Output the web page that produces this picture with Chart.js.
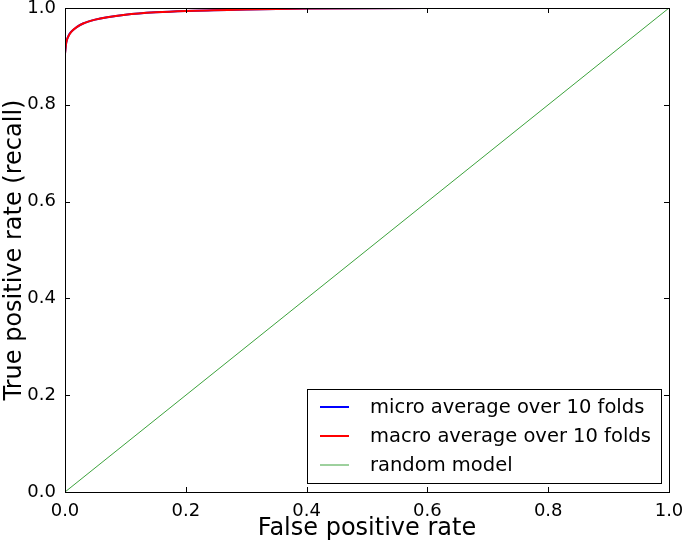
<!DOCTYPE html>
<html>
<head>
<meta charset="utf-8">
<script src="https://cdn.jsdelivr.net/npm/chart.js@4/dist/chart.umd.min.js"></script>
<style>
  html,body{margin:0;padding:0;background:#fff}
  canvas{display:block}
</style>
</head>
<body>
<canvas id="roc" width="685" height="545"></canvas>
<script>
// ── data ──
var fpr      = [0, 0.002, 0.005, 0.01, 0.02, 0.03, 0.05, 0.07, 0.1, 0.15, 0.2, 0.3, 0.4, 0.6, 1.0];
var tprMacro = [0.905, 0.928, 0.94, 0.95, 0.961, 0.968, 0.976, 0.981, 0.986, 0.991, 0.994, 0.997, 0.999, 1.0, 1.0];
var tprMicro = [0.906, 0.928, 0.9405, 0.9505, 0.961, 0.968, 0.976, 0.981, 0.986, 0.991, 0.994, 0.997, 0.999, 1.0, 1.0];
var randX    = [0, 1];
var randY    = [0, 1];
var ticks    = [0, 0.2, 0.4, 0.6, 0.8, 1.0];
var labels   = ['micro average over 10 folds','macro average over 10 folds','random model'];

function pts(xs,ys){return xs.map(function(x,i){return{x:x,y:ys[i]};});}

var FONT='"DejaVu Sans", sans-serif';

// inward ticks on four sides, frame and legend box (matplotlib classic look)
var frame={
  id:'frame',
  afterDatasetsDraw:function(c){
    var a=c.chartArea,ctx=c.ctx,xs=c.scales.x,ys=c.scales.y;
    ctx.save();
    ctx.strokeStyle='#000';ctx.lineWidth=1;
    ctx.beginPath();
    ticks.forEach(function(t){
      var px=Math.round(xs.getPixelForValue(t))+0.5,py=Math.round(ys.getPixelForValue(t))+0.5;
      ctx.moveTo(px,a.bottom);ctx.lineTo(px,a.bottom-5);
      ctx.moveTo(px,a.top);ctx.lineTo(px,a.top+5);
      ctx.moveTo(a.left,py);ctx.lineTo(a.left+5,py);
      ctx.moveTo(a.right,py);ctx.lineTo(a.right-5,py);
    });
    ctx.stroke();
    ctx.strokeRect(Math.round(a.left)+0.5,Math.round(a.top)+0.5,Math.round(a.right-a.left),Math.round(a.bottom-a.top));

    // legend, in dataset index order
    var bx=307.5,by=389.5,bw=354,bh=94;
    ctx.fillStyle='#fff';ctx.fillRect(bx,by,bw,bh);
    ctx.strokeRect(bx,by,bw,bh);
    ctx.font='19.5px '+FONT;ctx.textBaseline='middle';ctx.textAlign='left';
    c.data.datasets.forEach(function(ds,i){
      var ly=407+i*29;
      ctx.strokeStyle=ds.borderColor;ctx.lineWidth=ds.borderWidth;
      ctx.beginPath();ctx.moveTo(320,ly);ctx.lineTo(349,ly);ctx.stroke();
      ctx.fillStyle='#000';ctx.fillText(ds.label,370,ly+1);
    });
    ctx.restore();
  }
};

new Chart(document.getElementById('roc'),{
  type:'line',
  data:{datasets:[
    {label:labels[0],data:pts(fpr,tprMicro),borderColor:'#0000ff',borderWidth:2,pointRadius:0,cubicInterpolationMode:'monotone',fill:false,order:2},
    {label:labels[1],data:pts(fpr,tprMacro),borderColor:'#ff0000',borderWidth:2,pointRadius:0,cubicInterpolationMode:'monotone',fill:false,order:1},
    {label:labels[2],data:pts(randX,randY),borderColor:'#3ca23c',borderWidth:1,pointRadius:0,fill:false,order:3}
  ]},
  plugins:[frame],
  options:{
    responsive:false,animation:false,
    devicePixelRatio:1,
    layout:{padding:{left:0,right:16,top:8,bottom:0}},
    plugins:{legend:{display:false},tooltip:{enabled:false}},
    scales:{
      x:{type:'linear',min:0,max:1,
        afterFit:function(s){s.height=53;s.paddingLeft=0;s.paddingRight=0;},
        afterBuildTicks:function(s){s.ticks=ticks.map(function(v){return{value:v};});},
        grid:{display:false},border:{display:false},
        ticks:{color:'#000',font:{family:FONT,size:18},padding:1,maxRotation:0,
          callback:function(v){return v.toFixed(1);}},
        title:{display:true,text:'False positive rate',color:'#000',font:{family:FONT,size:24},padding:{top:0,bottom:2}}
      },
      y:{type:'linear',min:0,max:1,
        afterFit:function(s){s.width=65;s.paddingTop=0;s.paddingBottom=0;},
        afterBuildTicks:function(s){s.ticks=ticks.map(function(v){return{value:v};});},
        grid:{display:false},border:{display:false},
        ticks:{color:'#000',font:{family:FONT,size:18},padding:1,
          callback:function(v){return v.toFixed(1);}},
        title:{display:true,text:'True positive rate (recall)',color:'#000',font:{family:FONT,size:24},padding:{top:0,bottom:2}}
      }
    }
  }
});
</script>
</body>
</html>
